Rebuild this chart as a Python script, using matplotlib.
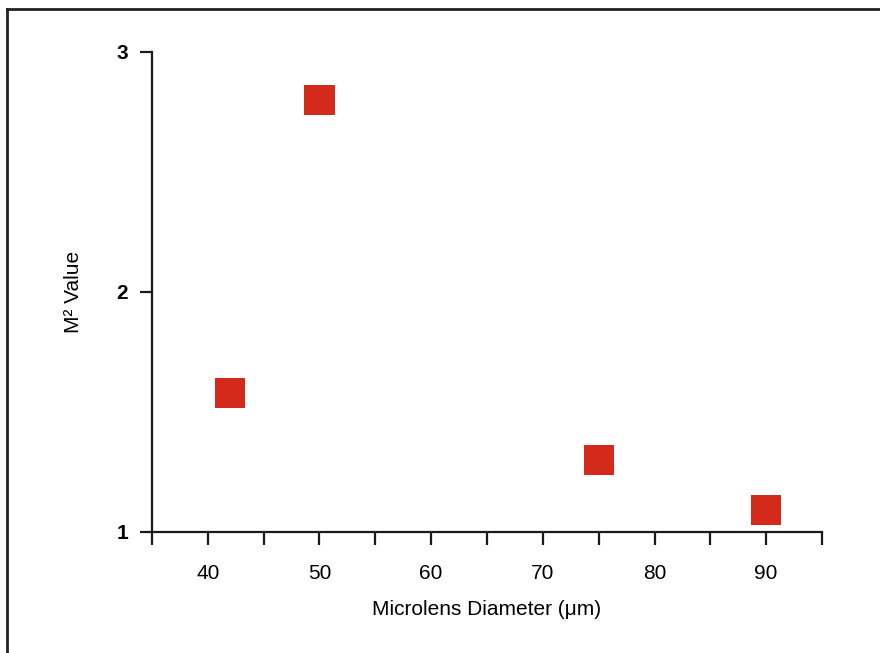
import matplotlib
matplotlib.use("Agg")
import matplotlib.pyplot as plt
from matplotlib.lines import Line2D

# data
diameter_um = [42, 50, 75, 90]
m2_value = [1.58, 2.80, 1.30, 1.09]

x_major = [40, 50, 60, 70, 80, 90]
x_minor = [35, 45, 55, 65, 75, 85, 95]
y_ticks = [1, 2, 3]

plt.rcParams["font.family"] = ["Liberation Sans", "DejaVu Sans"]

fig = plt.figure(figsize=(8.8, 6.53), dpi=100)

# page frame (top and left edge)
fig.add_artist(Line2D([0.008, 1.0], [0.986, 0.986], transform=fig.transFigure,
                      color="#222222", lw=2.0))
fig.add_artist(Line2D([0.008, 0.008], [0.0, 0.986], transform=fig.transFigure,
                      color="#222222", lw=2.0))

ax = fig.add_axes([0.1727, 0.1853, 0.7614, 0.7351])
ax.patch.set_alpha(0)

ax.scatter(diameter_um, m2_value, marker="s", s=470, color="#d42a1c",
           edgecolors="none", zorder=3, clip_on=False)

ax.set_xlim(35, 95)
ax.set_ylim(1, 3)

for side in ["top", "right"]:
    ax.spines[side].set_visible(False)
for side in ["left", "bottom"]:
    ax.spines[side].set_linewidth(1.6)
    ax.spines[side].set_color("#1a1a1a")

ax.set_xticks(x_major)
ax.set_xticks(x_minor, minor=True)
ax.set_yticks(y_ticks)
ax.tick_params(axis="x", which="both", direction="out", length=9, width=1.6,
               color="#1a1a1a", labelsize=15, pad=14)
ax.tick_params(axis="y", which="major", direction="out", length=9, width=1.6,
               color="#1a1a1a", labelsize=15, pad=8)
for lbl in ax.get_yticklabels():
    lbl.set_fontweight("bold")

ax.set_xlabel("Microlens Diameter (\u03bcm)", fontsize=15, labelpad=12)
ax.set_ylabel("M\u00b2 Value", fontsize=15, labelpad=24)

fig.savefig("out.png", dpi=100)
